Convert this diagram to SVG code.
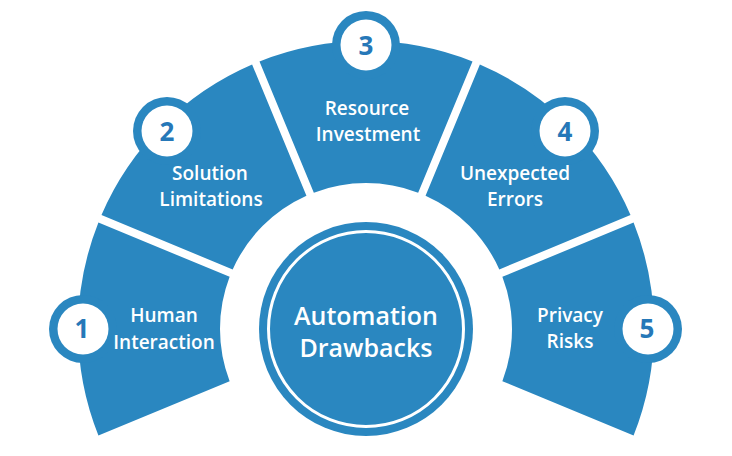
<svg xmlns="http://www.w3.org/2000/svg" width="732" height="456" viewBox="0 0 732 456">
<style>
.seg{fill:#2A87C0}
.lbl{fill:#fff;font-family:"Open Sans","Liberation Sans",sans-serif;font-weight:600;font-size:19px;text-anchor:middle}
.ring{fill:#2A87C0}
.dot{fill:#fff}
.num{fill:#2678B8;font-family:"Open Sans","Liberation Sans",sans-serif;font-weight:700;font-size:26px;text-anchor:middle}
.ctr{fill:#fff;font-family:"Open Sans","Liberation Sans",sans-serif;font-weight:600;font-size:25px;text-anchor:middle}
</style>
<rect width="732" height="456" fill="#fff"/>
<g id="seg1">
<path class="seg" d="M98.42 435.51 A288 288 0 0 1 98.42 222.49 L229.63 276.84 A146 146 0 0 0 229.63 381.16 Z"/>
<g id="badge1"><circle class="ring" cx="83" cy="329" r="34"/><circle class="dot" cx="83" cy="329" r="25.5"/><text class="num" x="82" y="338">1</text></g>
<text class="lbl" x="164" y="322">Human</text>
<text class="lbl" x="164" y="349">Interaction</text>
</g>
<g id="seg2">
<path class="seg" d="M101.48 215.10 A288 288 0 0 1 252.10 64.48 L306.45 195.69 A146 146 0 0 0 232.69 269.45 Z"/>
<g id="badge2"><circle class="ring" cx="167" cy="131" r="34"/><circle class="dot" cx="167" cy="131" r="25.5"/><text class="num" x="167" y="140.5">2</text></g>
<text class="lbl" x="210" y="180">Solution</text>
<text class="lbl" x="211" y="206">Limitations</text>
</g>
<g id="seg3">
<path class="seg" d="M259.49 61.42 A288 288 0 0 1 472.51 61.42 L418.16 192.63 A146 146 0 0 0 313.84 192.63 Z"/>
<g id="badge3"><circle class="ring" cx="366" cy="45" r="34"/><circle class="dot" cx="366" cy="45" r="25.5"/><text class="num" x="366" y="54.5">3</text></g>
<text class="lbl" x="367" y="115">Resource</text>
<text class="lbl" x="368" y="141">Investment</text>
</g>
<g id="seg4">
<path class="seg" d="M479.90 64.48 A288 288 0 0 1 630.52 215.10 L499.31 269.45 A146 146 0 0 0 425.55 195.69 Z"/>
<g id="badge4"><circle class="ring" cx="565" cy="131" r="34"/><circle class="dot" cx="565" cy="131" r="25.5"/><text class="num" x="565" y="140.5">4</text></g>
<text class="lbl" x="515" y="180">Unexpected</text>
<text class="lbl" x="515" y="206">Errors</text>
</g>
<g id="seg5">
<path class="seg" d="M633.58 222.49 A288 288 0 0 1 633.58 435.51 L502.37 381.16 A146 146 0 0 0 502.37 276.84 Z"/>
<g id="badge5"><circle class="ring" cx="648" cy="329" r="34"/><circle class="dot" cx="648" cy="329" r="25.5"/><text class="num" x="647" y="338">5</text></g>
<text class="lbl" x="570" y="322">Privacy</text>
<text class="lbl" x="570" y="348">Risks</text>
</g>
<g id="center">
<circle cx="366" cy="329" r="107" fill="#2A87C0"/>
<circle cx="366" cy="329" r="97.5" fill="none" stroke="#fff" stroke-width="3"/>
<text class="ctr" x="366" y="325">Automation</text>
<text class="ctr" x="366" y="357">Drawbacks</text>
</g>
<g id="connectors"/>
</svg>
